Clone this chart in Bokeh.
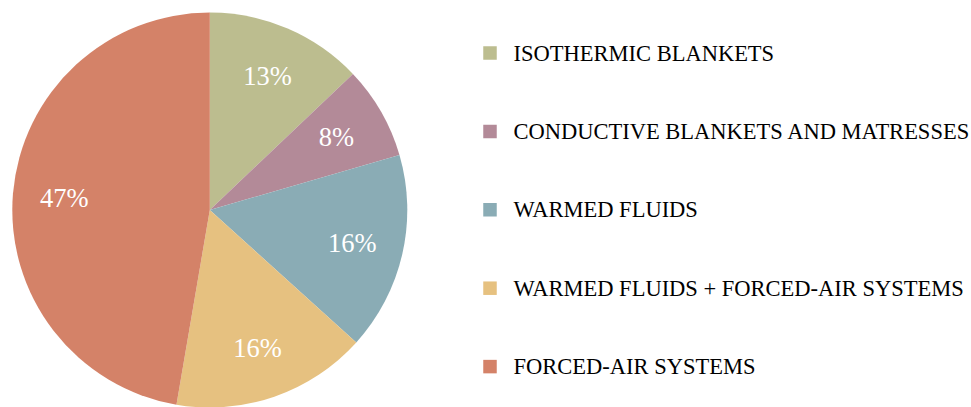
import math
from bokeh.plotting import figure
from bokeh.models import Range1d, ColumnDataSource
from bokeh.core.properties import value
from bokeh.embed import file_html
from bokeh.resources import INLINE

categories = ["ISOTHERMIC BLANKETS", "CONDUCTIVE BLANKETS AND MATRESSES",
              "WARMED FLUIDS", "WARMED FLUIDS + FORCED-AIR SYSTEMS",
              "FORCED-AIR SYSTEMS"]
percent = [12.9, 7.6, 16.2, 16.0, 47.3]
colors = ["#BCBD8F", "#B38A98", "#8AACB5", "#E6C180", "#D48268"]

W, H = 971, 407
FONT = value("'Liberation Serif', 'Times New Roman', serif")
p = figure(width=W, height=H, output_backend="svg", toolbar_location=None,
           x_range=Range1d(0, W), y_range=Range1d(0, H), min_border=0)
p.axis.visible = False
p.grid.visible = False
p.outline_line_color = None
p.background_fill_color = "white"

cx, cy, r = 209.3, H - 209.5, 197.5
total = sum(percent)
starts, ends, lx, ly, labels = [], [], [], [], []
acc = 0.0
for v in percent:
    a0 = math.pi / 2 - 2 * math.pi * acc / total
    acc += v
    a1 = math.pi / 2 - 2 * math.pi * acc / total
    starts.append(a0)
    ends.append(a1)
    mid = (a0 + a1) / 2
    lx.append(cx + 0.74 * r * math.cos(mid))
    ly.append(cy + 0.74 * r * math.sin(mid))
    labels.append(f"{round(v)}%")

src = ColumnDataSource(dict(start=starts, end=ends, color=colors, lx=lx, ly=ly, label=labels))
p.wedge(x=cx, y=cy, radius=r, start_angle="start", end_angle="end", direction="clock",
        fill_color="color", line_color=None, source=src)
p.text(x="lx", y="ly", text="label", source=src, text_color="white",
       text_font=FONT, text_font_size="26.5px",
       text_align="center", text_baseline="middle")

ys = [H - (52.5 + i * 78.4) for i in range(len(categories))]
leg = ColumnDataSource(dict(y=ys, color=colors, name=categories))
p.scatter(x=489.5, y="y", marker="square", size=13.5, fill_color="color", line_color=None, source=leg)
p.text(x=513, y="y", text="name", source=leg, text_color="black",
       text_font=FONT, text_font_size="22.5px",
       text_align="left", text_baseline="middle")

open("out.html", "w").write(file_html(p, INLINE))
